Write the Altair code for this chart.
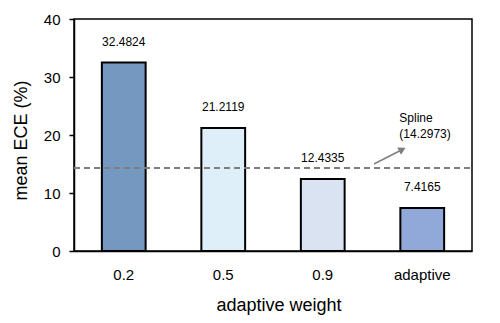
import altair as alt
import pandas as pd

categories = ["0.2", "0.5", "0.9", "adaptive"]
ece_values = [32.4824, 21.2119, 12.4335, 7.4165]
bar_colors = ["#7598C0", "#DEEFFA", "#D9E3F2", "#91A9D9"]
spline_value = 14.2973
spline_label = "Spline\n(14.2973)"
y_ticks = [0, 10, 20, 30, 40]

FONT = "Liberation Sans"
W, H = 398, 232

df = pd.DataFrame({"weight": categories, "ece": ece_values, "color": bar_colors})

y_enc = alt.Y(
    "ece:Q",
    scale=alt.Scale(domain=[0, 40]),
    title="mean ECE (%)",
    axis=alt.Axis(values=y_ticks, grid=False, tickSize=5, tickColor="black",
                  tickWidth=1.5, labelPadding=9, labelFontSize=15,
                  titleFontSize=18, titlePadding=13, titleFontWeight="normal",
                  titleY=121,
                  domainColor="black", domainWidth=1.5, labelColor="black",
                  titleColor="black", labelFont=FONT, titleFont=FONT),
)

x_enc = alt.X(
    "weight:N",
    sort=categories,
    title="adaptive weight",
    scale=alt.Scale(paddingInner=0.56, paddingOuter=0.28),
    axis=alt.Axis(labelAngle=0, ticks=False, labelPadding=16, labelFontSize=15,
                  titleFontSize=18, titlePadding=14, titleFontWeight="normal",
                  titleX=204.5,
                  domainColor="black", domainWidth=1.5, labelColor="black",
                  titleColor="black", labelFont=FONT, titleFont=FONT),
)

bars = alt.Chart(df).mark_bar(stroke="black", strokeWidth=2).encode(
    x=x_enc, y=y_enc, color=alt.Color("color:N", scale=None)
)

labels = alt.Chart(df).mark_text(dy=-21, fontSize=12, font=FONT, color="black").encode(
    x=alt.X("weight:N", sort=categories),
    y="ece:Q",
    text=alt.Text("ece:Q", format=".4f"),
)

band_layer = alt.layer(bars, labels)

# annotation layer on a continuous position scale matching the band layout
xq = alt.Scale(domain=[0, 4])

hline = alt.Chart(pd.DataFrame({"v": [spline_value]})).mark_rule(
    color="#7f7f7f", strokeWidth=2, strokeDash=[6, 4]
).encode(
    y="v:Q",
    x=alt.datum(0, scale=xq, axis=None),
    x2=alt.datum(4),
)

arrow_df = pd.DataFrame({"x0": [3.015], "y0": [15.0], "x1": [3.30], "y1": [17.5]})
arrow_line = alt.Chart(arrow_df).mark_rule(color="#7f7f7f", strokeWidth=1.5).encode(
    x=alt.X("x0:Q", scale=xq, axis=None), y="y0:Q", x2="x1:Q", y2="y1:Q"
)
arrow_head = alt.Chart(arrow_df).mark_point(
    shape="triangle-up", filled=True, color="#7f7f7f", size=70, angle=63, opacity=1
).encode(x=alt.X("x1:Q", scale=xq, axis=None), y="y1:Q")

spline_text = alt.Chart(pd.DataFrame({"x": [3.27], "y": [23.8], "t": [spline_label]})).mark_text(
    align="left", baseline="top", fontSize=12, font=FONT, color="black",
    lineBreak="\n", lineHeight=16
).encode(x=alt.X("x:Q", scale=xq, axis=None), y="y:Q", text="t:N")

annot = alt.layer(hline, arrow_line, arrow_head, spline_text)

chart = alt.layer(band_layer, annot).resolve_scale(x="independent").properties(
    width=W,
    height=H,
    autosize=alt.AutoSizeParams(type="none"),
    padding={"left": 66, "top": 11, "right": 20, "bottom": 64},
    background="white",
).configure_view(stroke="black", strokeWidth=1.5)

chart.save("out.html", embed_options={"renderer": "svg", "actions": False})
